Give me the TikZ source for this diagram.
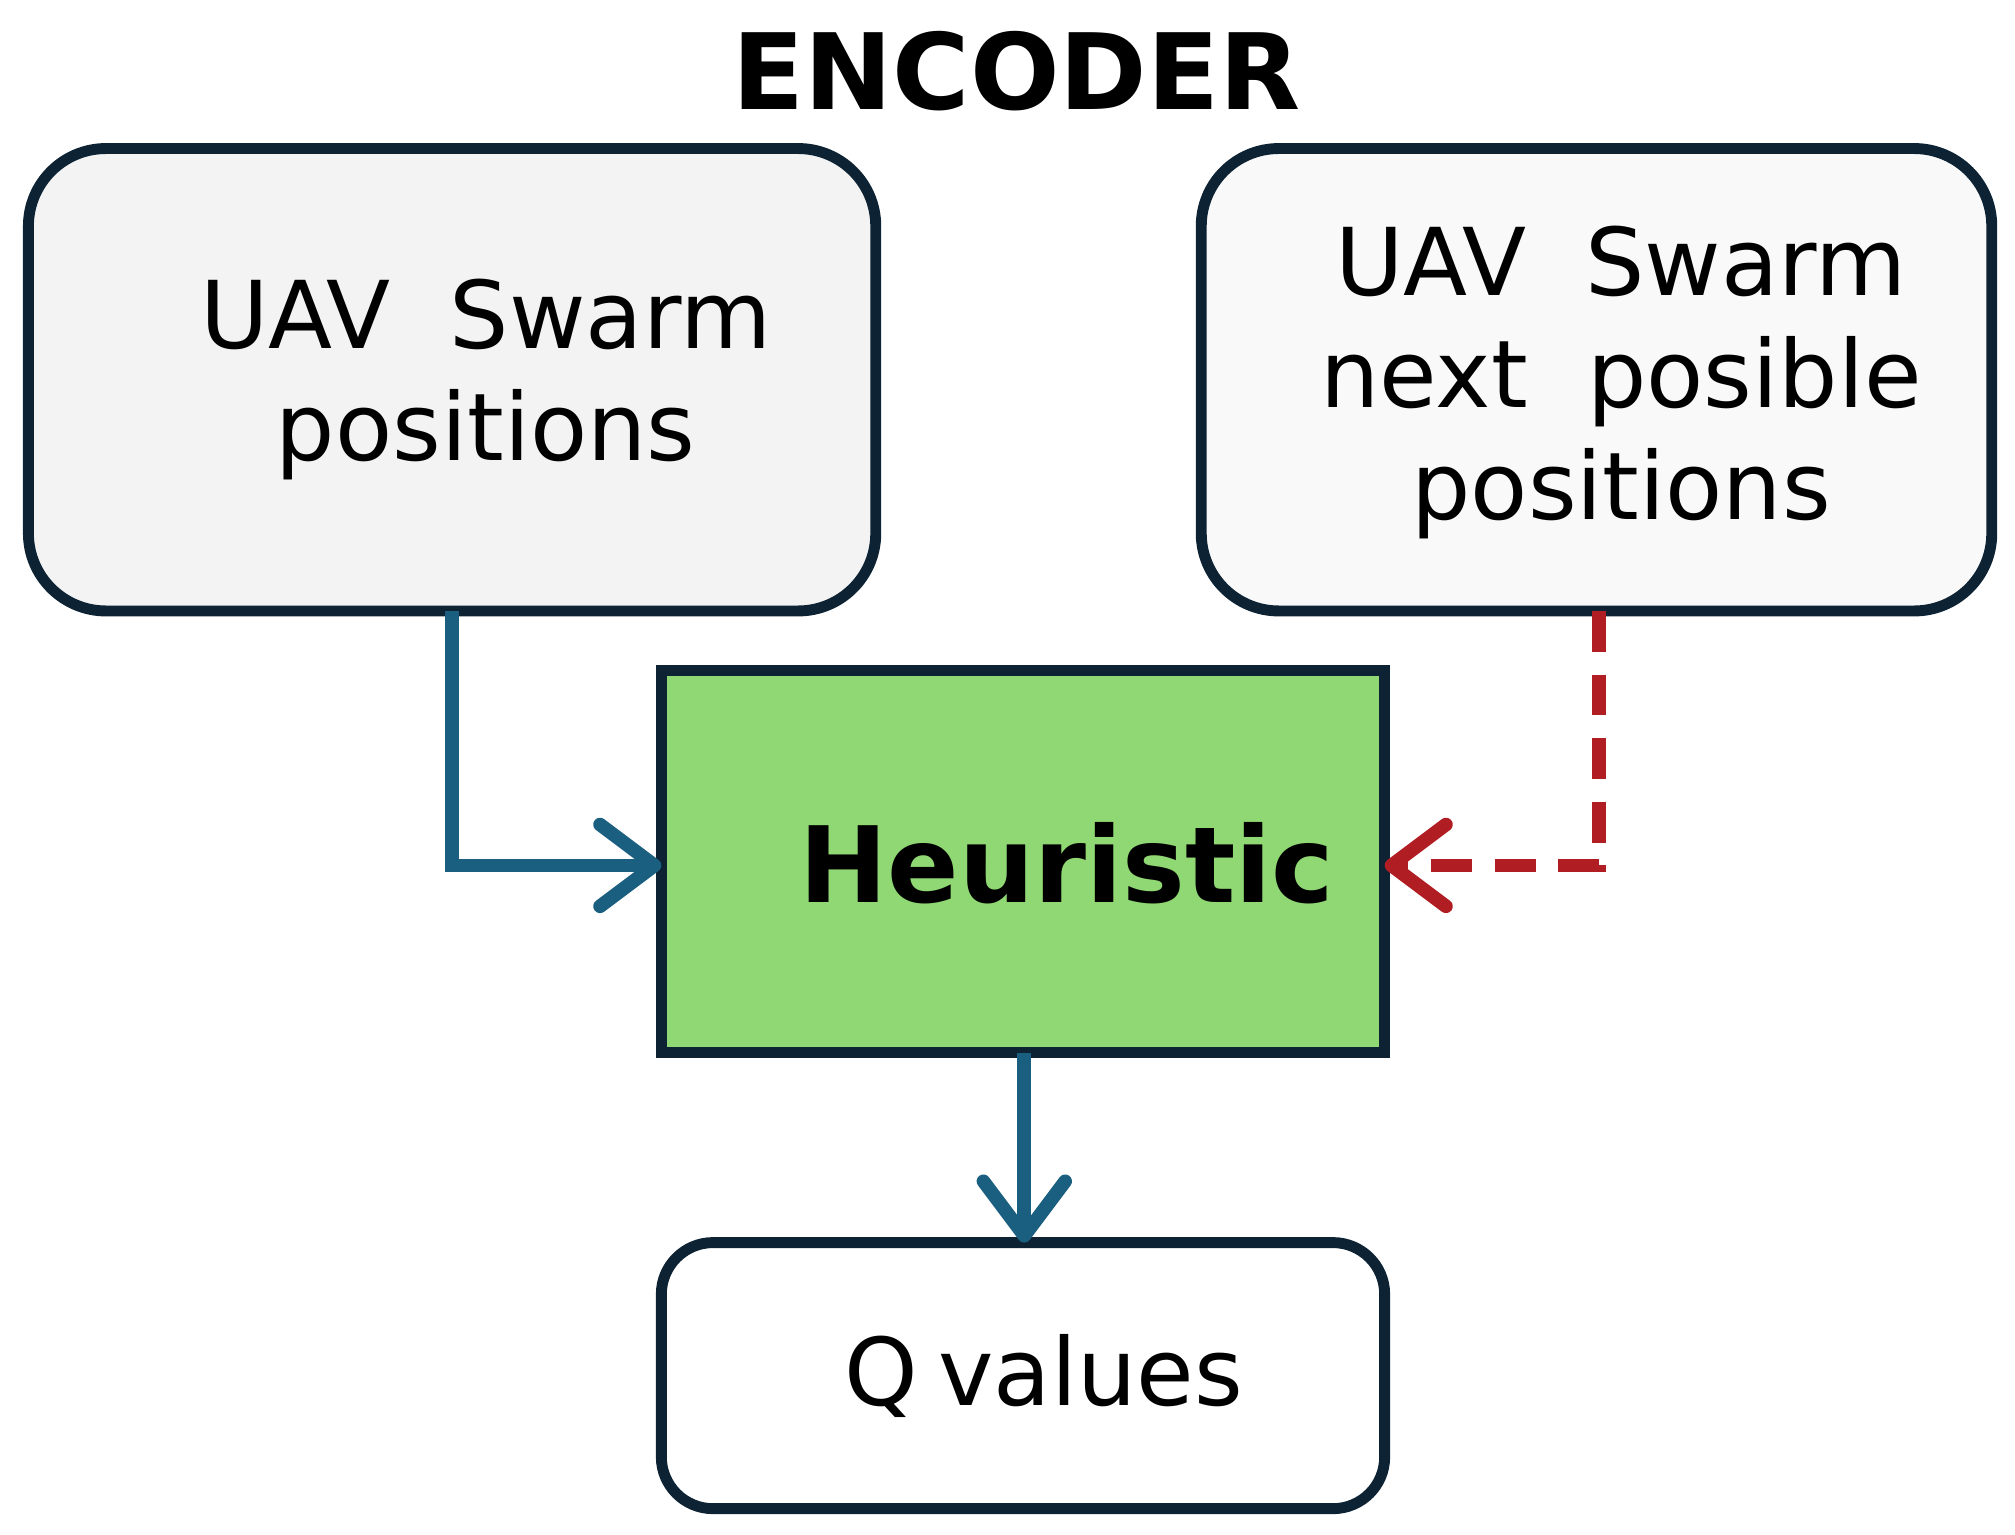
\documentclass[tikz,border=0pt]{standalone}
\usepackage{fontspec}
\setmainfont{DejaVu Sans}
\usetikzlibrary{arrows.meta}
\definecolor{edge}{HTML}{0D2233}
\definecolor{boxfill}{HTML}{F3F3F3}
\definecolor{heur}{HTML}{8FD873}
\definecolor{blue}{HTML}{1A5F80}
\definecolor{red}{HTML}{B01E23}
\begin{document}
\begin{tikzpicture}[x=0.01cm,y=-0.01cm,
  box/.style={draw=edge,line width=2.4pt},
  txt/.style={font=\fontsize{20.6}{24.7}\selectfont,align=center},
  arr/.style={line width=3pt,-{Straight Barb[length=12pt,width=18pt,line width=3pt,round]}}]
\useasboundingbox (0,0) rectangle (1560,1188);
\node[font=\fontsize{23.2}{28}\selectfont\bfseries] (title) at (787,55) {ENCODER};
\draw[box,fill=boxfill,rounded corners=0.6cm] (22,115) rectangle (678,473);
\coordinate (lb) at (350,473);
\node[txt] (lt) at (376,294) {UAV\ \ Swarm\\positions};
\draw[box,fill=boxfill!50!white,rounded corners=0.6cm] (930,115) rectangle (1542,473);
\coordinate (rb) at (1238,473);
\node[txt] (rt) at (1255,296) {UAV\ \ Swarm\\next\ \ posible\\positions};
\draw[box,fill=heur] (512,519) rectangle (1072,815);
\coordinate (hl) at (512,670); \coordinate (hr) at (1072,670);
\coordinate (hb) at (793,815);
\node[font=\fontsize{23.2}{28}\selectfont\bfseries] (h) at (826,668) {Heuristic};
\draw[box,fill=white,rounded corners=0.4cm] (512,962) rectangle (1072,1168);
\coordinate (qt) at (793,962);
\node[txt,font=\fontsize{20.6}{24.7}\selectfont] (q) at (808,1065) {Q\hspace{-0.1em} values};
\draw[arr,draw=blue] (lb) |- (hl);
\draw[arr,draw=red,dash pattern=on 9pt off 5pt] (rb) |- (hr);
\draw[arr,draw=blue] (hb) -- (qt);
\end{tikzpicture}
\end{document}
